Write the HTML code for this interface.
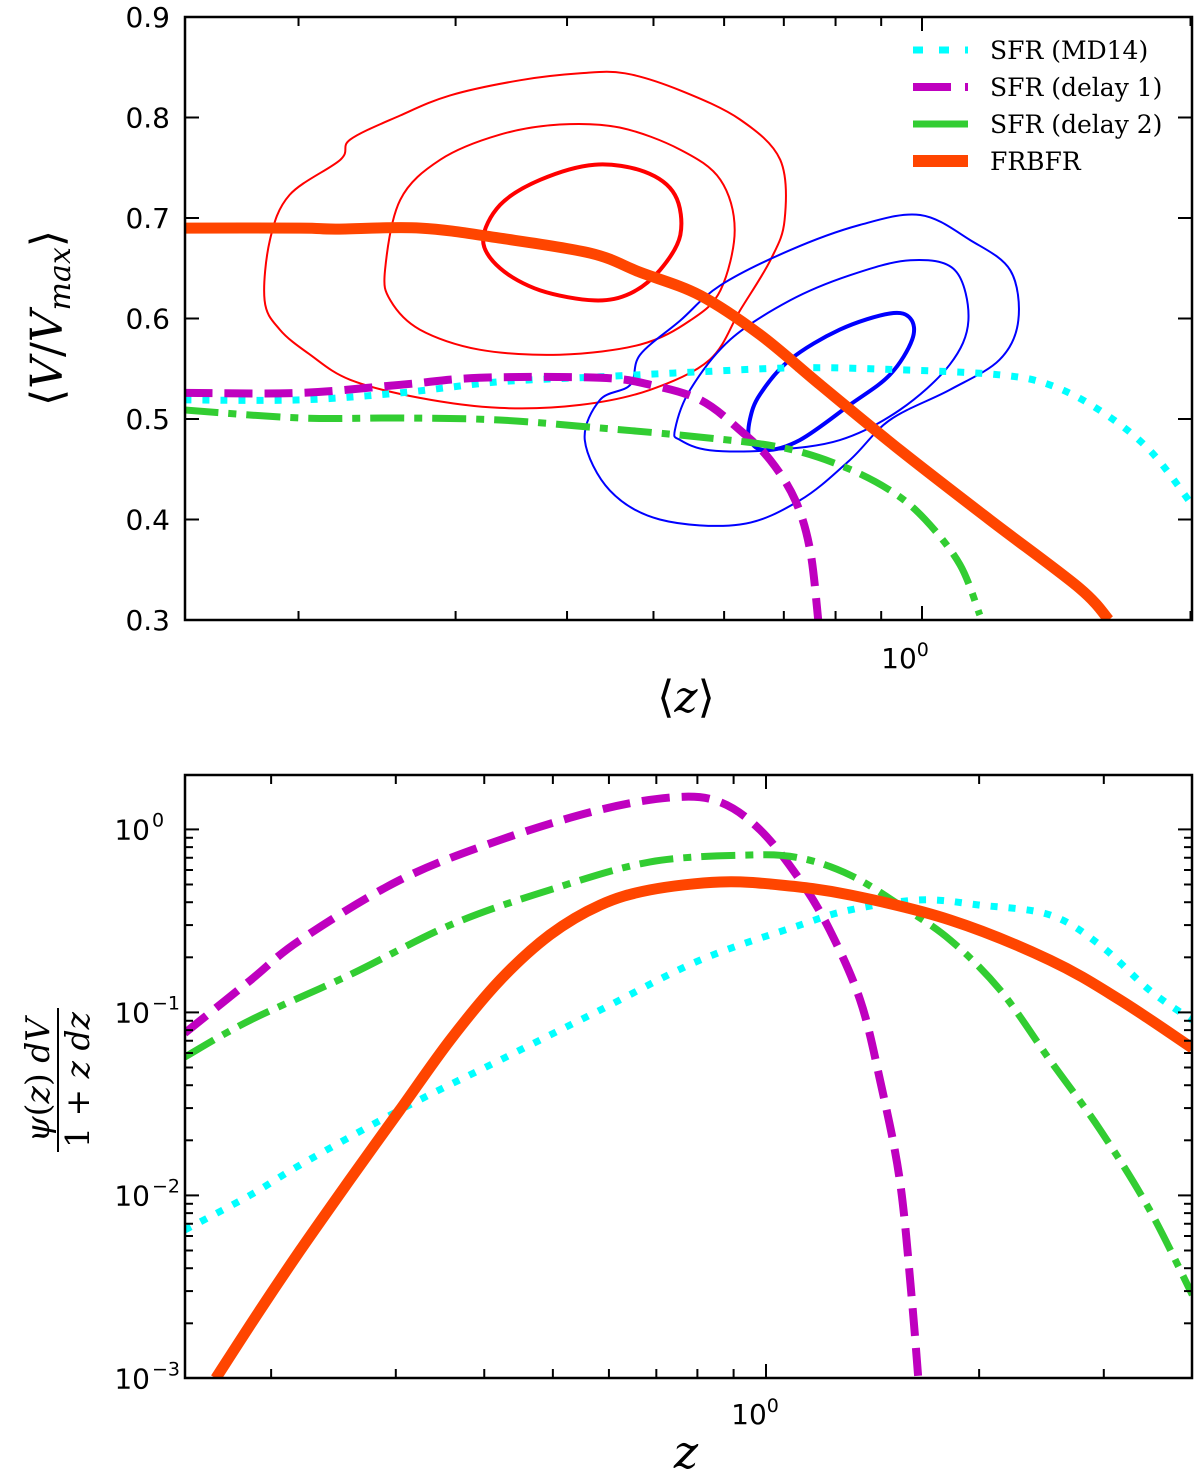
<!DOCTYPE html>
<html><head><meta charset="utf-8">
<style>
html,body{margin:0;padding:0;background:#fff;}
svg{display:block;font-family:"DejaVu Sans","Liberation Sans",sans-serif;}
</style></head>
<body>
<svg id="chart" width="1200" height="1475" viewBox="0 0 1200 1475" xmlns="http://www.w3.org/2000/svg">
<defs>
<clipPath id="clipTop"><rect x="185" y="17" width="1007" height="603"/></clipPath>
<clipPath id="clipBot"><rect x="185" y="775" width="1007" height="603"/></clipPath>
</defs>
<g id="topPanel"></g>
<g id="botPanel"></g>
</svg>
<script>
// ===== Top panel data =====
const topFrbZ = [0.149,0.201,0.220,0.274,0.336,0.425,0.483,0.564,0.658,0.769,0.945,1.19,1.50,1.62];
const topFrbV = [0.690,0.690,0.689,0.690,0.680,0.665,0.646,0.623,0.584,0.534,0.469,0.400,0.332,0.300];
const topMdZ = [0.149,0.201,0.260,0.336,0.436,0.564,0.730,0.945,1.22,1.39,1.58,1.80,2.01];
const topMdV = [0.519,0.519,0.526,0.537,0.542,0.547,0.551,0.549,0.544,0.534,0.509,0.469,0.414];
const topD1Z = [0.149,0.201,0.260,0.319,0.436,0.496,0.564,0.625,0.676,0.721,0.749,0.765];
const topD1V = [0.526,0.526,0.534,0.541,0.541,0.534,0.519,0.489,0.459,0.419,0.370,0.300];
const topD2Z = [0.149,0.201,0.260,0.336,0.436,0.564,0.693,0.809,0.921,1.008,1.103,1.161];
const topD2V = [0.509,0.501,0.501,0.499,0.491,0.482,0.472,0.454,0.429,0.400,0.355,0.305];
// contours: [log10 z, <V/Vmax>]
const redOuter = [[-0.737,.618],[-0.731,.678],[-0.709,.723],[-0.652,.758],[-0.641,.778],[-0.585,.802],[-0.529,.822],[-0.451,.837],[-0.383,.844],[-0.333,.844],[-0.271,.827],[-0.204,.798],[-0.159,.758],[-0.154,.698],[-0.170,.658],[-0.204,.608],[-0.238,.559],[-0.305,.529],[-0.383,.514],[-0.473,.511],[-0.563,.521],[-0.641,.539],[-0.686,.564],[-0.720,.589]];
const redMid = [[-0.602,.648],[-0.585,.718],[-0.540,.758],[-0.473,.783],[-0.406,.793],[-0.339,.790],[-0.271,.768],[-0.226,.738],[-0.210,.688],[-0.226,.628],[-0.260,.598],[-0.316,.574],[-0.406,.564],[-0.496,.569],[-0.563,.589],[-0.596,.618]];
const redInner = [[-0.492,.678],[-0.473,.713],[-0.428,.738],[-0.367,.753],[-0.311,.746],[-0.277,.723],[-0.271,.683],[-0.294,.648],[-0.327,.625],[-0.367,.618],[-0.428,.628],[-0.473,.650]];
const blueOuter = [[-0.378,.479],[-0.361,.519],[-0.327,.534],[-0.316,.564],[-0.271,.598],[-0.226,.633],[-0.148,.668],[-0.070,.693],[-0.002,.703],[0.054,.678],[0.099,.648],[0.108,.598],[0.087,.559],[0.031,.529],[-0.036,.499],[-0.081,.459],[-0.137,.419],[-0.204,.395],[-0.294,.400],[-0.350,.429]];
const blueMid = [[-0.277,.489],[-0.260,.529],[-0.215,.579],[-0.148,.618],[-0.081,.643],[-0.013,.658],[0.037,.648],[0.052,.598],[0.031,.554],[-0.025,.509],[-0.092,.479],[-0.170,.469],[-0.238,.469],[-0.271,.479]];
const blueInner = [[-0.193,.499],[-0.182,.524],[-0.148,.559],[-0.092,.589],[-0.036,.605],[-0.013,.600],[-0.011,.579],[-0.036,.544],[-0.081,.514],[-0.137,.479],[-0.176,.469],[-0.193,.479]];
const topYTicks = [0.3,0.4,0.5,0.6,0.7,0.8,0.9];
const topYLabels = ["0.3","0.4","0.5","0.6","0.7","0.8","0.9"];

// ===== Bottom panel data =====
const botD1Z = [0.151,0.187,0.220,0.304,0.421,0.583,0.743,0.861,0.982,1.117,1.230,1.358,1.449,1.545,1.607,1.641];
const botD1V = [0.0771,0.150,0.249,0.529,0.875,1.28,1.50,1.41,0.99,0.529,0.282,0.117,0.0427,0.0121,0.00269,0.001];
const botD2Z = [0.151,0.187,0.258,0.358,0.495,0.686,0.948,1.117,1.315,1.545,1.820,2.143,2.518,2.965,3.483,4.0];
const botD2V = [0.0570,0.0908,0.160,0.300,0.467,0.664,0.725,0.698,0.563,0.386,0.249,0.132,0.0549,0.0228,0.00832,0.00286];
const botFrbZ = [0.167,0.193,0.220,0.258,0.304,0.358,0.421,0.495,0.583,0.686,0.861,1.047,1.315,1.820,2.518,3.162,4.0];
const botFrbV = [0.001,0.00237,0.00503,0.0121,0.0293,0.0706,0.150,0.265,0.386,0.467,0.516,0.497,0.438,0.320,0.193,0.117,0.0638];
const botMdZ = [0.151,0.187,0.220,0.304,0.421,0.583,0.807,1.117,1.315,1.652,2.004,2.518,2.965,3.483,4.0];
const botMdV = [0.00647,0.01005,0.0147,0.0293,0.0549,0.103,0.193,0.300,0.363,0.412,0.386,0.341,0.233,0.132,0.0908];

const NS="http://www.w3.org/2000/svg";
function mk(parent,tag,attrs){const e=document.createElementNS(NS,tag);for(const k in attrs)e.setAttribute(k,attrs[k]);parent.appendChild(e);return e;}
const tx = z => 922 + 892*Math.log10(z);
const ty = v => 17 + (0.9 - v)*1005;
const bx = z => 766 + 708*Math.log10(z);
const by = v => 829.4 - 183*Math.log10(v);

function smooth(P,closed){
  const n=P.length; let d='M'+P[0][0].toFixed(1)+','+P[0][1].toFixed(1);
  const get=i=>closed?P[(i+n)%n]:P[Math.max(0,Math.min(n-1,i))];
  const last=closed?n:n-1;
  for(let i=0;i<last;i++){
    const p0=get(i-1),p1=get(i),p2=get(i+1),p3=get(i+2);
    const c1=[p1[0]+(p2[0]-p0[0])/6,p1[1]+(p2[1]-p0[1])/6];
    const c2=[p2[0]-(p3[0]-p1[0])/6,p2[1]-(p3[1]-p1[1])/6];
    d+='C'+c1[0].toFixed(1)+','+c1[1].toFixed(1)+' '+c2[0].toFixed(1)+','+c2[1].toFixed(1)+' '+p2[0].toFixed(1)+','+p2[1].toFixed(1);
  }
  return d+(closed?'Z':'');
}

const topG=document.getElementById('topPanel'), botG=document.getElementById('botPanel');
const COL={md:'#00ffff',d1:'#bf00bf',d2:'#32cd32',frb:'#ff4500'};
const STY={md:{w:7,d:'7,11'},d1:{w:8,d:'28,12'},d2:{w:7,d:'34,10,8,10'},frb:{w:11,d:''}};

function line(parent,zs,vs,fx,fy,key,clip,name){
  const P=zs.map((z,i)=>[fx(z),fy(vs[i])]);
  const p=mk(parent,'path',{d:smooth(P,false),fill:'none',stroke:COL[key],'stroke-width':STY[key].w,'clip-path':'url(#'+clip+')','stroke-linejoin':'round'});
  if(STY[key].d)p.setAttribute('stroke-dasharray',STY[key].d);
  
  
}
function contour(arr,color,w,name){
  const P=arr.map(p=>[tx(Math.pow(10,p[0])),ty(p[1])]);
  const p=mk(topG,'path',{d:smooth(P,true),fill:'none',stroke:color,'stroke-width':w,'stroke-linejoin':'round','clip-path':'url(#clipTop)'});
  
  
}
contour(redOuter,'#ff0000',2,'red-contour-outer');
contour(redMid,'#ff0000',2,'red-contour-middle');
contour(redInner,'#ff0000',4,'red-contour-inner');
contour(blueOuter,'#0000ff',2,'blue-contour-outer');
contour(blueMid,'#0000ff',2,'blue-contour-middle');
contour(blueInner,'#0000ff',4,'blue-contour-inner');
line(topG,topMdZ,topMdV,tx,ty,'md','clipTop','top-sfr-md14-line');
line(topG,topD1Z,topD1V,tx,ty,'d1','clipTop','top-sfr-delay1-line');
line(topG,topD2Z,topD2V,tx,ty,'d2','clipTop','top-sfr-delay2-line');
line(topG,topFrbZ,topFrbV,tx,ty,'frb','clipTop','top-frbfr-line');

line(botG,botMdZ,botMdV,bx,by,'md','clipBot','bottom-sfr-md14-line');
line(botG,botD1Z,botD1V,bx,by,'d1','clipBot','bottom-sfr-delay1-line');
line(botG,botD2Z,botD2V,bx,by,'d2','clipBot','bottom-sfr-delay2-line');
line(botG,botFrbZ,botFrbV,bx,by,'frb','clipBot','bottom-frbfr-line');

function frame(parent,y0,y1,name){
  const r=mk(parent,'rect',{x:185,y:y0,width:1007,height:y1-y0,fill:'none',stroke:'#000','stroke-width':2.5});
  
  
}
frame(topG,17,620,'top-axes-frame');
frame(botG,775,1378,'bottom-axes-frame');

function tick(parent,x1,y1,x2,y2){mk(parent,'line',{x1:x1,y1:y1,x2:x2,y2:y2,stroke:'#000','stroke-width':2});}
function text(parent,x,y,s,size,anchor,name){
  const t=mk(parent,'text',{x:x,y:y,'font-size':size,'text-anchor':anchor,fill:'#000'});
  t.textContent=s;
  
  
  return t;
}
[0.2,0.3,0.4,0.5,0.6,0.7,0.8,0.9,1,2].forEach(z=>{
  const x=tx(z); if(x<185||x>1192)return; const L=z===1?14:9;
  tick(topG,x,620,x,620-L); tick(topG,x,17,x,17+L);
});
topYTicks.forEach((v,i)=>{
  const y=ty(v); tick(topG,185,y,199,y); tick(topG,1192,y,1178,y);
  text(topG,170,y+10,topYLabels[i],28,'end','top-y-tick-label');
});
const t1=text(topG,905,668,'10',28,'middle','top-x-tick-label');
const s1=mk(t1,'tspan',{dy:-12,'font-size':19});s1.textContent='0';
const tyl=text(topG,0,0,'',44,'middle','top-y-axis-title');
tyl.setAttribute('transform','translate(62,318) rotate(-90)');
tyl.setAttribute('font-family','"DejaVu Serif","Liberation Serif",serif');
tyl.innerHTML='⟨<tspan font-style="italic">V</tspan>/<tspan font-style="italic">V</tspan><tspan font-style="italic" font-size="30" dy="8">max</tspan><tspan dy="-8">⟩</tspan>';
const txl=text(topG,686,712,'',44,'middle','top-x-axis-title');
txl.setAttribute('font-family','"DejaVu Serif","Liberation Serif",serif');
txl.innerHTML='⟨<tspan font-style="italic">z</tspan>⟩';

const leg=mk(topG,'g',{});


const legKeys=['md','d1','d2','frb'], legLabels=['SFR (MD14)','SFR (delay 1)','SFR (delay 2)','FRBFR'];
legKeys.forEach((k,i)=>{
  const y=50+i*37;
  const l=mk(leg,'line',{x1:913,y1:y,x2:968,y2:y,stroke:COL[k],'stroke-width':k==='frb'?12:STY[k].w});
  if(k==='md')l.setAttribute('stroke-dasharray','10,16');
  if(k==='d1')l.setAttribute('stroke-dasharray','38,14');
  
  
  const t=text(leg,990,y+9,legLabels[i],25,'start','legend-entry');
  t.setAttribute('font-family','"DejaVu Serif","Liberation Serif",serif');
});

[0.2,0.3,0.4,0.5,0.6,0.7,0.8,0.9,1,2,3].forEach(z=>{
  const x=bx(z); if(x<185||x>1192)return; const L=z===1?14:9;
  tick(botG,x,1378,x,1378-L); tick(botG,x,775,x,775+L);
});
for(let e=-3;e<=0;e++){
  for(let m=1;m<=9;m++){
    const v=m*Math.pow(10,e); const y=by(v); if(y<775||y>1378)continue;
    const L=m===1?14:8; tick(botG,185,y,185+L,y); tick(botG,1192,y,1192-L,y);
  }
  const y=by(Math.pow(10,e));
  text(botG,150,y+10,'10',28,'end','bottom-y-tick-label');
  const s=mk(botG,'text',{x:152,y:y-3,'font-size':19,'text-anchor':'start'});
  s.textContent=e===0?'0':'−'+(-e);
  
  
}
const t2=text(botG,755,1424,'10',28,'middle','bottom-x-tick-label');
const s2=mk(t2,'tspan',{dy:-12,'font-size':19});s2.textContent='0';
const bxl=text(botG,686,1468,'',46,'middle','bottom-x-axis-title');
bxl.setAttribute('font-family','"DejaVu Serif","Liberation Serif",serif');
bxl.innerHTML='<tspan font-style="italic">z</tspan>';
const byl=mk(botG,'g',{transform:'translate(55,1080) rotate(-90)','font-family':'"DejaVu Serif","Liberation Serif",serif','font-size':33});


const num=mk(byl,'text',{x:0,y:-6,'text-anchor':'middle'});
num.innerHTML='<tspan font-style="italic">ψ</tspan>(<tspan font-style="italic">z</tspan>) <tspan font-style="italic">dV</tspan>';
mk(byl,'line',{x1:-72,y1:3,x2:72,y2:3,stroke:'#000','stroke-width':2});
const den=mk(byl,'text',{x:0,y:34,'text-anchor':'middle'});
den.innerHTML='1 + <tspan font-style="italic">z</tspan> <tspan font-style="italic">dz</tspan>';
</script>
</body></html>
